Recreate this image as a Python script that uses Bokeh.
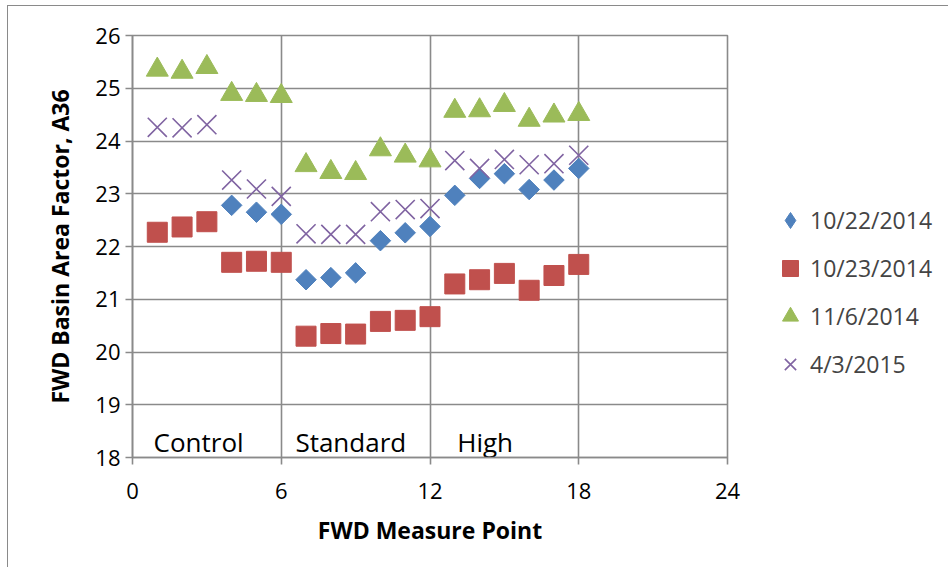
from bokeh.plotting import figure
from bokeh.models import FixedTicker, Range1d, Legend, LegendItem
from bokeh.core.properties import value
from bokeh.embed import file_html
from bokeh.resources import INLINE
import numpy as np

## Données
points_1022 = [4, 5, 6, 7, 8, 9, 10, 11, 12, 13, 14, 15, 16, 17, 18]
a36_1022 = [22.78, 22.65, 22.61, 21.37, 21.41, 21.50, 22.11, 22.26, 22.38,
            22.97, 23.29, 23.38, 23.08, 23.26, 23.48]

points = list(range(1, 19))
a36_1023 = [22.27, 22.37, 22.47, 21.70, 21.72, 21.70, 20.30, 20.35, 20.34,
            20.58, 20.60, 20.67, 21.29, 21.37, 21.49, 21.17, 21.45, 21.66]
a36_1106 = [25.35, 25.31, 25.40, 24.89, 24.87, 24.85, 23.54, 23.41, 23.39,
            23.84, 23.72, 23.63, 24.57, 24.58, 24.68, 24.40, 24.48, 24.51]
a36_0403 = [24.26, 24.25, 24.31, 23.26, 23.09, 22.95, 22.24, 22.23, 22.23,
            22.66, 22.70, 22.72, 23.63, 23.48, 23.65, 23.55, 23.57, 23.73]

labels = ["10/22/2014", "10/23/2014", "11/6/2014", "4/3/2015"]
sections = ["Control", "Standard", "High"]
x_ticks = [0, 6, 12, 18, 24]
y_ticks = [18, 19, 20, 21, 22, 23, 24, 25, 26]

FONT = "Open Sans"
GRIS = "#8a8a8a"
BLEU, ROUGE, VERT, VIOLET = "#4f81bd", "#c0504d", "#9bbb59", "#8064a2"

p = figure(frame_width=595, frame_height=422,
           min_border_left=124, min_border_top=29, min_border_right=210,
           min_border_bottom=110,
           x_range=Range1d(0, 24), y_range=Range1d(18, 26),
           output_backend="svg", toolbar_location=None)
# cadre du graphique (bords gauche et haut seulement, comme la capture)
p.styles = {"border-left": "1px solid #8a8a8a", "border-top": "1px solid #8a8a8a",
            "margin-left": "7px", "margin-top": "5px"}

p.outline_line_color = GRIS
p.outline_line_width = 1.6

# axes
for ax in (p.xaxis, p.yaxis):
    ax.axis_line_color = GRIS
    ax.axis_line_width = 1.6
    ax.major_tick_line_color = GRIS
    ax.major_tick_line_width = 1.6
    ax.major_tick_in = 0
    ax.major_tick_out = 7
    ax.minor_tick_line_color = None
    ax.major_label_text_font = FONT
    ax.major_label_text_font_size = "22px"
    ax.major_label_text_color = "black"
    ax.axis_label_text_font = FONT
    ax.axis_label_text_font_size = "23px"
    ax.axis_label_text_font_style = "bold"
    ax.axis_label_text_color = "black"

p.xaxis.ticker = FixedTicker(ticks=x_ticks)
p.yaxis.ticker = FixedTicker(ticks=y_ticks)
p.xaxis.axis_label = "FWD Measure Point"
p.yaxis.axis_label = "FWD Basin Area Factor, A36"
p.xaxis.major_label_standoff = 18
p.yaxis.major_label_standoff = 5
p.xaxis.axis_label_standoff = 12
p.yaxis.axis_label_standoff = 16

p.xgrid.ticker = FixedTicker(ticks=x_ticks)
p.ygrid.ticker = FixedTicker(ticks=y_ticks)
for g in (p.xgrid, p.ygrid):
    g.grid_line_color = GRIS
    g.grid_line_width = 1.6

# séries
p.scatter(points_1022, a36_1022, marker="square", angle=np.pi/4, size=14.5,
          fill_color=BLEU, line_color=BLEU)
r2 = p.scatter(points, a36_1023, marker="square", size=20,
               fill_color=ROUGE, line_color=ROUGE)
r3 = p.scatter(points, a36_1106, marker="triangle", size=22,
               fill_color=VERT, line_color=VERT)
r4 = p.scatter(points, a36_0403, marker="x", size=27,
               line_color=VIOLET, line_width=1.6)
# losange pour la légende seulement (point NaN, non dessiné)
r1 = p.scatter([np.nan], [np.nan], marker="diamond", fill_color=BLEU, line_color=BLEU)

# étiquettes des sections
p.text(x=[0.85, 6.57, 13.1], y=[18.3, 18.3, 18.3], text=sections,
       text_font=value(FONT), text_font_size="26px", text_color="black",
       text_align="left", text_baseline="middle")

legend = Legend(items=[LegendItem(label=lab, renderers=[r])
                       for lab, r in zip(labels, [r1, r2, r3, r4])],
                location=(43, 73))
legend.border_line_color = None
legend.background_fill_alpha = 0
legend.label_text_font = FONT
legend.label_text_font_size = "23px"
legend.glyph_width = 40
legend.glyph_height = 40
legend.label_height = 40
legend.spacing = 8
legend.label_standoff = -9
legend.padding = 0
legend.margin = 0
p.add_layout(legend, "right")

open("out.html", "w").write(file_html(p, INLINE))
